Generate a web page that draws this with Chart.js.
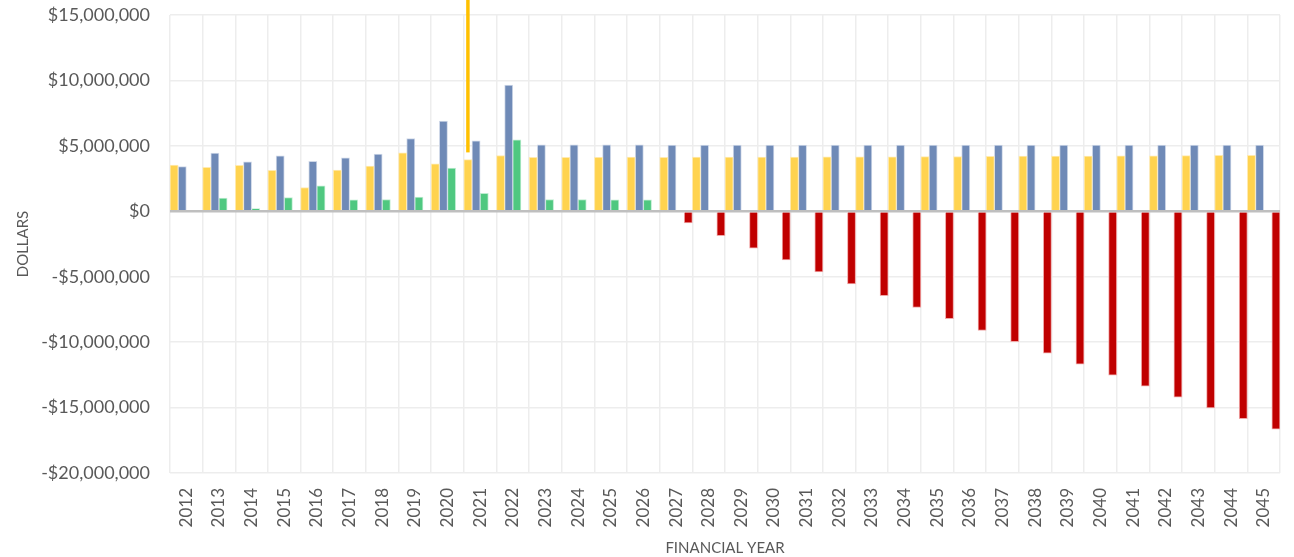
<!DOCTYPE html>
<html>
<head>
<meta charset="utf-8">
<script src="https://cdn.jsdelivr.net/npm/chart.js@4.4.0/dist/chart.umd.min.js"></script>
<style>
  html, body { margin: 0; padding: 0; background: #fff; }
  #wrap { width: 1294px; height: 557px; }
</style>
</head>
<body>
<div id="wrap"><canvas id="chart"></canvas></div>
<script>
const years = ['2012','2013','2014','2015','2016','2017','2018','2019','2020','2021','2022',
  '2023','2024','2025','2026','2027','2028','2029','2030','2031','2032','2033','2034',
  '2035','2036','2037','2038','2039','2040','2041','2042','2043','2044','2045'];

const revenue = [3540000, 3360000, 3510000, 3130000, 1820000, 3150000, 3460000, 4460000,
  3620000, 3950000, 4260000, 4130000, 4130000, 4130000, 4140000, 4120000, 4140000,
  4140000, 4150000, 4150000, 4160000, 4170000, 4170000, 4180000, 4190000, 4200000,
  4210000, 4220000, 4220000, 4230000, 4240000, 4250000, 4270000, 4280000];

const costs = [3410000, 4440000, 3770000, 4230000, 3820000, 4080000, 4380000, 5560000,
  6900000, 5380000, 9640000, 5080000, 5080000, 5080000, 5080000, 5050000, 5050000,
  5050000, 5050000, 5050000, 5050000, 5050000, 5050000, 5050000, 5050000, 5050000,
  5050000, 5050000, 5050000, 5050000, 5050000, 5050000, 5050000, 5050000];

const balanceUp = [null, 1000000, 200000, 1050000, 1950000, 870000, 900000, 1080000,
  3310000, 1380000, 5460000, 900000, 900000, 870000, 870000, null, null, null, null,
  null, null, null, null, null, null, null, null, null, null, null, null, null, null, null];

const balanceDown = [null, null, null, null, null, null, null, null, null, null, null,
  null, null, null, null, -890000, -1860000, -2810000, -3720000, -4640000, -5560000,
  -6450000, -7350000, -8210000, -9110000, -9970000, -10840000, -11680000, -12530000,
  -13370000, -14210000, -15030000, -15840000, -16660000];

const yTicks = [-20000000, -15000000, -10000000, -5000000, 0, 5000000, 10000000, 15000000];

// orange marker line sitting over the 2021 revenue bar
const markerYear = '2021';
const markerFrom = 4500000;

const FONT = 'Lato, "Open Sans", sans-serif';
const TEXT = '#595959';

function money(v) {
  const s = '$' + Math.abs(v).toLocaleString('en-US');
  return v < 0 ? '-' + s : s;
}

const markerLine = {
  id: 'markerLine',
  afterDraw(chart) {
    const i = years.indexOf(markerYear);
    const el = chart.getDatasetMeta(0).data[i];
    if (!el) return;
    const y = chart.scales.y.getPixelForValue(markerFrom);
    const ctx = chart.ctx;
    ctx.save();
    ctx.strokeStyle = '#FFC000';
    ctx.lineWidth = 3.5;
    ctx.beginPath();
    ctx.moveTo(el.x, 0);
    ctx.lineTo(el.x, y);
    ctx.stroke();
    ctx.restore();
  }
};

const el = document.getElementById('chart');
new Chart(el, {
  type: 'bar',
  data: {
    labels: years,
    datasets: [
      { label: 'Revenue', data: revenue, backgroundColor: '#FFD34F', borderColor: '#FFEAB0', borderWidth: 1 },
      { label: 'Costs', data: costs, backgroundColor: '#6F8AB7', borderColor: '#CFD8E8', borderWidth: 1 },
      { label: 'Surplus', data: balanceUp, backgroundColor: '#4FC880', borderColor: '#BDEDD0', borderWidth: 1 },
      { label: 'Deficit', data: balanceDown, backgroundColor: '#C00000', borderColor: '#F0A8A8', borderWidth: 1 }
    ]
  },
  options: {
    responsive: true,
    maintainAspectRatio: false,
    animation: false,
    categoryPercentage: 1,
    barPercentage: 1,
    layout: { padding: { left: 0, right: 14, top: 15, bottom: 0 } },
    plugins: {
      legend: { display: false },
      tooltip: { enabled: false }
    },
    scales: {
      x: {
        grid: {
          color: '#EDEDED', lineWidth: 1.5, offset: true,
          drawTicks: true, tickLength: 15, tickColor: 'rgba(0,0,0,0)'
        },
        border: { display: false },
        ticks: {
          color: TEXT, font: { family: FONT, size: 17 },
          minRotation: 90, maxRotation: 90, autoSkip: false, padding: 0
        },
        title: {
          display: true, text: 'FINANCIAL YEAR', color: TEXT,
          font: { family: FONT, size: 15 }, padding: { top: 0, bottom: 0 }
        },
        afterFit(scale) { scale.height = 84; }
      },
      y: {
        min: -20000000,
        max: 15000000,
        afterBuildTicks(scale) { scale.ticks = yTicks.map(v => ({ value: v })); },
        grid: {
          drawTicks: true, tickLength: 20, tickColor: 'rgba(0,0,0,0)',
          color: ctx => ctx.tick && ctx.tick.value === 0 ? '#BFBFBF' : '#EDEDED',
          lineWidth: ctx => ctx.tick && ctx.tick.value === 0 ? 2.5 : 1.5
        },
        border: { display: false },
        ticks: {
          color: TEXT, font: { family: FONT, size: 18 }, padding: 0,
          callback: v => money(v)
        },
        title: {
          display: true, text: 'DOLLARS', color: TEXT,
          font: { family: FONT, size: 15 }, padding: { top: 14, bottom: 0 }
        },
        afterFit(scale) { scale.width = 170; }
      }
    }
  },
  plugins: [markerLine]
});
</script>
</body>
</html>
